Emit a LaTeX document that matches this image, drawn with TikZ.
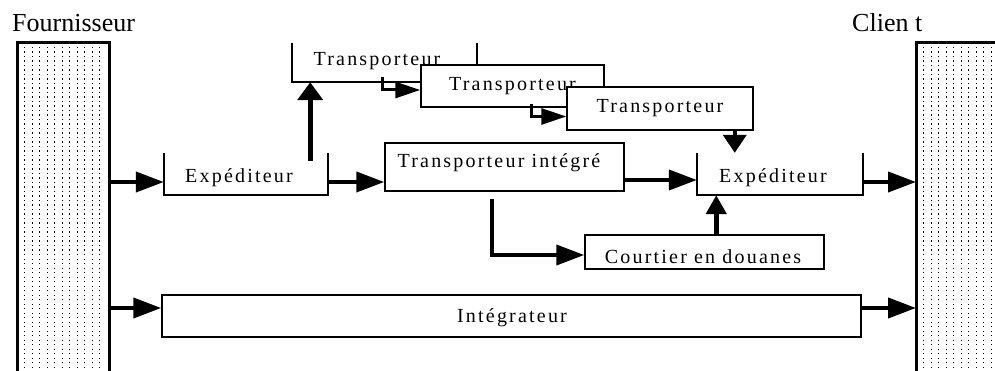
\documentclass[tikz,border=0pt]{standalone}
\usepackage{fontspec}
\setmainfont{Liberation Serif}
\newfontfamily\boxfont[LetterSpace=11]{Liberation Serif}
\usetikzlibrary{arrows.meta,calc}
\tikzset{
  boxnode/.style={draw, line width=1.5pt, fill=white, inner sep=0pt, font=\boxfont\fontsize{20}{23}\selectfont},
  openbox/.style={inner sep=0pt, font=\boxfont\fontsize{20}{23}\selectfont},
  frameline/.style={line width=1.5pt},
  bigarrow/.style={line width=4pt, -{Triangle[length=28pt,width=20pt]}},
  uparrow/.style={line width=5pt, -{Triangle[length=18pt,width=25pt]}},
  smallarrow/.style={line width=3pt, -{Triangle[length=25pt,width=16pt]}},
  downarrow/.style={line width=4pt, -{Triangle[length=18pt,width=23pt]}},
  title/.style={anchor=base west, inner sep=0pt, font=\fontsize{26}{30}\selectfont},
  stripe/.style={draw, line width=2pt, fill=white, inner sep=0pt}
}
\begin{document}
\begin{tikzpicture}[x=1pt,y=-1pt]
\useasboundingbox (0,0) rectangle (995,371);
\clip (0,0) rectangle (995,371);
\fill[white] (0,0) rectangle (995,371);

% titles
\node[title] (ftitle) at (12,32) {Fournisseur};
\node[title] (ctitle) at (852,32) {Clien t};

% stripe boxes
\node[stripe, minimum width=91pt, minimum height=340pt] (F) at (63.5,213) {};
\node[stripe, minimum width=100pt, minimum height=340pt] (Cl) at (967,213) {};
\foreach \x in {24,31.5,...,106}
  \foreach \y in {47,51.5,...,371}
    \fill (\x,\y) rectangle +(1.3,1.3);
\foreach \x in {923,930.5,...,995}
  \foreach \y in {47,51.5,...,371}
    \fill (\x,\y) rectangle +(1.3,1.3);
\draw[line width=2pt] (F.north west) rectangle (F.south east);
\draw[line width=2pt] (Cl.north west) rectangle (Cl.south east);

% Transporteur boxes
\node[openbox, minimum width=185pt, minimum height=39pt] (T1) at (384.5,62.5) {};
\node[openbox] (T1t) at (377,61) {Transporteur};
\draw[frameline] (T1.north west) -- (T1.south west) -- (T1.south east) -- (T1.north east);
\node[boxnode, minimum width=183pt, minimum height=42pt] (T2) at (512.5,86) {Transporteur};
\node[boxnode, minimum width=186pt, minimum height=43pt] (T3) at (660,108.5) {Transporteur};

% Expediteur boxes (open top)
\node[openbox, minimum width=164pt, minimum height=42pt] (E1) at (246,174) {};
\node[openbox] (E1t) at (239,178) {Expéditeur};
\draw[frameline] (E1.north west) -- (E1.south west) -- (E1.south east) -- (E1.north east);
\node[openbox, minimum width=166pt, minimum height=42pt] (E2) at (780,174) {};
\node[openbox] (E2t) at (773,178) {Expéditeur};
\draw[frameline] (E2.north west) -- (E2.south west) -- (E2.south east) -- (E2.north east);

% other boxes
\node[boxnode, minimum width=239pt, minimum height=48pt] (TI) at (504.5,167) {};
\node[openbox] (TIt) at (499,163) {Transporteur intégré};
\node[boxnode, minimum width=239pt, minimum height=34pt] (C) at (704.5,252) {};
\node[openbox] (Ct) at (703,257) {Courtier en douanes};
\node[boxnode, minimum width=699pt, minimum height=42pt] (I) at (511.5,316) {};
\node[openbox] (It) at (512,318) {Intégrateur};

% connectors
\coordinate (a1) at ([yshift=-8pt]E1.west);
\coordinate (a1r) at ([yshift=-8pt]E1.east);
\coordinate (a2) at ([yshift=-6pt]E2.west);
\coordinate (a2r) at ([yshift=-8pt]E2.east);
\coordinate (ai) at ([yshift=8pt]I.west);
\coordinate (air) at ([yshift=8pt]I.east);
\draw[bigarrow] (F.east |- a1) -- (a1);
\draw[bigarrow] (a1r) -- (TI.west |- a1r);
\draw[bigarrow] (TI.east |- a2) -- (a2);
\draw[bigarrow] (a2r) -- (Cl.west |- a2r);
\draw[bigarrow] (F.east |- ai) -- (ai);
\draw[bigarrow] (air) -- (Cl.west |- air);

\coordinate (u1) at ($(E1.north east)+(-18,8)$);
\draw[uparrow] (u1) -- (u1 |- T1.south);

\coordinate (s1) at ($(T1.south west)+(91,-5)$);
\draw[smallarrow, line join=miter] (s1) |- ([yshift=-4pt]T2.west);
\coordinate (s2) at ($(T2.south west)+(111,-4)$);
\draw[smallarrow, line join=miter] (s2) |- ([yshift=-8pt]T3.west);

\coordinate (d1) at ($(T3.south east)+(-19,0)$);
\draw[downarrow] (d1) -- (d1 |- E2.north);

\coordinate (t1) at ($(TI.south west)+(108,7)$);
\draw[bigarrow, line join=miter] (t1) |- ([yshift=-3pt]C.west);

\coordinate (c1) at ($(C.north west)+(132,0)$);
\draw[line width=5pt, -{Triangle[length=19pt,width=20pt]}] (c1) -- (c1 |- E2.south);
\end{tikzpicture}
\end{document}
